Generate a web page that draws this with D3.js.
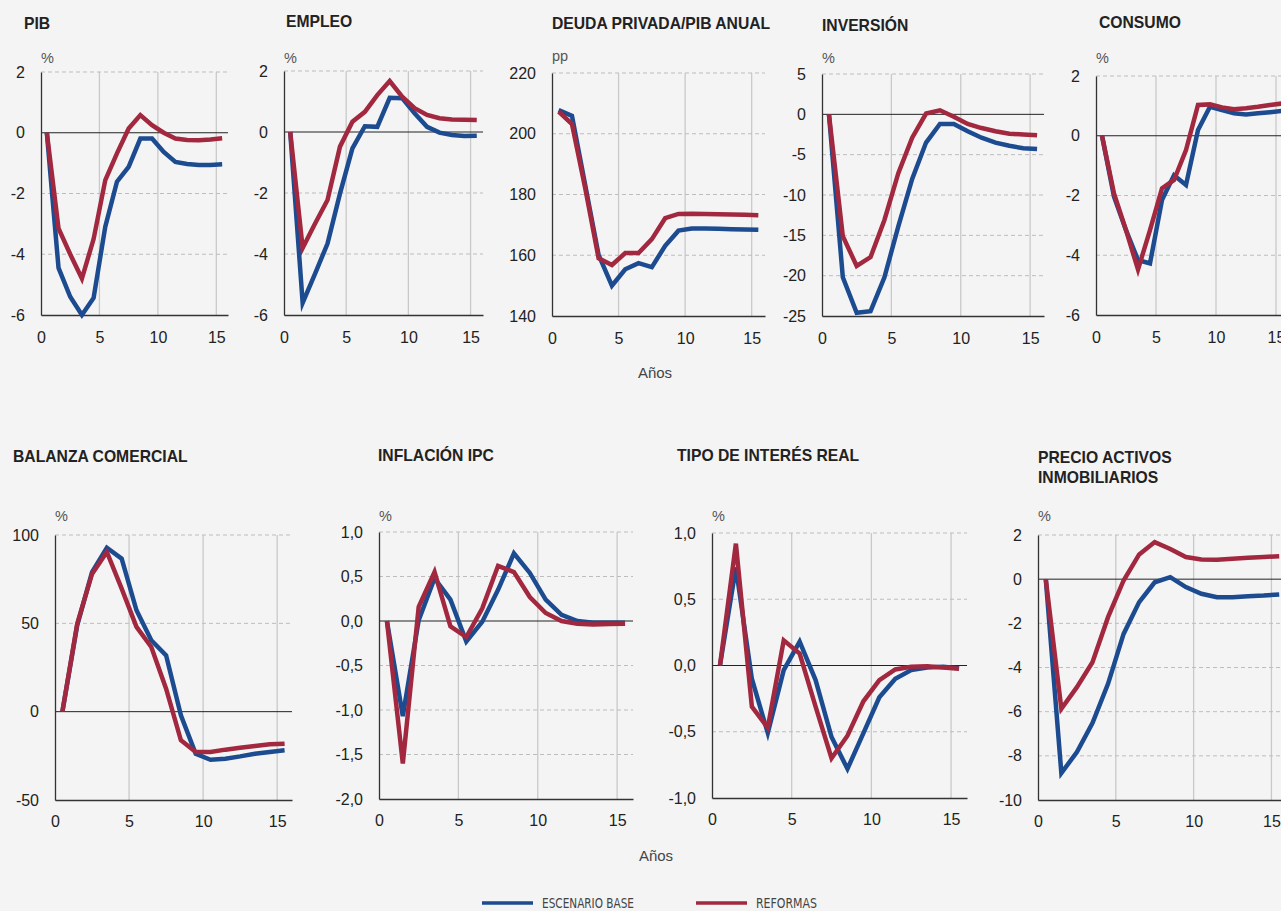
<!DOCTYPE html>
<html>
<head>
<meta charset="utf-8">
<script src="https://cdn.jsdelivr.net/npm/d3@7"></script>
<style>
  html, body { margin: 0; padding: 0; background: #f4f4f4; }
  svg { display: block; }
</style>
</head>
<body>
<svg id="chart" width="1281" height="911"></svg>
<script>
// ---------- DATA ----------
const years = [0.5, 1.5, 2.5, 3.5, 4.5, 5.5, 6.5, 7.5, 8.5, 9.5, 10.5, 11.5, 12.5, 13.5, 14.5, 15.5];
const xTicks = [0, 5, 10, 15];
const seriesNames = ["ESCENARIO BASE", "REFORMAS"];

const pibBase      = [0, -4.45, -5.4, -6.0, -5.44, -3.09, -1.61, -1.12, -0.19, -0.19, -0.63, -0.96, -1.03, -1.06, -1.06, -1.04];
const pibReformas  = [0, -3.15, -4.0, -4.8, -3.5, -1.56, -0.68, 0.14, 0.58, 0.25, 0.0, -0.19, -0.24, -0.25, -0.22, -0.18];
const pibTicks     = [2, 0, -2, -4, -6];

const empleoBase     = [0, -5.6, -4.64, -3.66, -2.02, -0.54, 0.19, 0.17, 1.12, 1.11, 0.61, 0.17, -0.02, -0.1, -0.13, -0.12];
const empleoReformas = [0, -3.8, -3.0, -2.23, -0.48, 0.34, 0.66, 1.21, 1.67, 1.16, 0.78, 0.56, 0.45, 0.41, 0.40, 0.39];
const empleoTicks    = [2, 0, -2, -4, -6];

const deudaBase     = [207.8, 205.9, 183, 160.1, 150, 155.4, 157.4, 156.1, 163.1, 168.1, 168.8, 168.8, 168.7, 168.6, 168.5, 168.4];
const deudaReformas = [207.3, 203.2, 182, 159, 156.8, 160.7, 160.7, 165.3, 172.2, 173.6, 173.7, 173.6, 173.5, 173.4, 173.3, 173.2];
const deudaTicks    = [220, 200, 180, 160, 140];

const inversionBase     = [0, -20.2, -24.6, -24.4, -20.2, -13.9, -8.0, -3.5, -1.2, -1.2, -2.1, -2.9, -3.5, -3.9, -4.2, -4.3];
const inversionReformas = [0, -15.1, -18.8, -17.7, -13.1, -7.3, -2.9, 0.1, 0.5, -0.3, -1.2, -1.7, -2.1, -2.4, -2.5, -2.6];
const inversionTicks    = [5, 0, -5, -10, -15, -20, -25];

const consumoBase     = [0, -2.04, -3.16, -4.16, -4.27, -2.15, -1.32, -1.65, 0.19, 0.97, 0.86, 0.75, 0.71, 0.75, 0.79, 0.83];
const consumoReformas = [0, -1.93, -3.16, -4.48, -3.16, -1.76, -1.48, -0.48, 1.03, 1.05, 0.95, 0.89, 0.92, 0.97, 1.03, 1.08];
const consumoTicks    = [2, 0, -2, -4, -6];

const balanzaBase     = [0, 48.9, 79, 92.8, 86.6, 57.4, 40.4, 31.9, -2, -23.8, -27.2, -26.6, -25.3, -23.8, -22.8, -21.9];
const balanzaReformas = [0, 49.8, 78, 90.4, 69.6, 48, 36.6, 13, -16.2, -22.8, -22.8, -21.5, -20.4, -19.4, -18.5, -18.1];
const balanzaTicks    = [100, 50, 0, -50];

const inflacionBase     = [0, -1.07, 0.01, 0.48, 0.24, -0.23, -0.01, 0.35, 0.76, 0.54, 0.24, 0.07, 0.0, -0.02, -0.02, -0.02];
const inflacionReformas = [0, -1.6, 0.16, 0.55, -0.06, -0.18, 0.14, 0.62, 0.55, 0.27, 0.09, 0.0, -0.03, -0.04, -0.035, -0.03];
const inflacionTicks    = [1, 0.5, 0, -0.5, -1, -1.5, -2];

const tipoBase     = [0, 0.74, -0.1, -0.51, -0.035, 0.18, -0.11, -0.54, -0.78, -0.51, -0.24, -0.1, -0.035, -0.015, -0.01, -0.02];
const tipoReformas = [0, 0.92, -0.31, -0.47, 0.19, 0.09, -0.31, -0.70, -0.53, -0.27, -0.11, -0.03, -0.01, -0.005, -0.015, -0.025];
const tipoTicks    = [1, 0.5, 0, -0.5, -1];

const precioBase     = [0, -8.78, -7.83, -6.52, -4.74, -2.48, -1.04, -0.14, 0.09, -0.36, -0.66, -0.82, -0.82, -0.77, -0.74, -0.69];
const precioReformas = [0, -5.87, -4.89, -3.76, -1.72, -0.06, 1.12, 1.68, 1.37, 1.0, 0.89, 0.88, 0.92, 0.97, 1.0, 1.04];
const precioTicks    = [2, 0, -2, -4, -6, -8, -10];

// ---------- LAYOUT / STYLE ----------
const COLORS = ["#1c4b90", "#a2283f"];
const BG = "#f4f4f4";

const intFmt = d => String(d);
const decFmt = d => (d < 0 ? "-" : "") + Math.abs(d).toFixed(1).replace(".", ",");

const panels = [
  { title: ["PIB"], unit: "%", base: pibBase, ref: pibReformas, ticks: pibTicks, fmt: intFmt,
    left: 41, right: 228, top: 72, bottom: 315, titleX: 24, titleY: 29, unitY: 63, xlabPad: 17 },
  { title: ["EMPLEO"], unit: "%", base: empleoBase, ref: empleoReformas, ticks: empleoTicks, fmt: intFmt,
    left: 284, right: 483, top: 71, bottom: 315, titleX: 286, titleY: 27, unitY: 63, xlabPad: 17 },
  { title: ["DEUDA PRIVADA/PIB ANUAL"], unit: "pp", base: deudaBase, ref: deudaReformas, ticks: deudaTicks, fmt: intFmt,
    left: 552, right: 765, top: 73, bottom: 316, titleX: 552, titleY: 29, unitY: 61, xlabPad: 17 },
  { title: ["INVERSIÓN"], unit: "%", base: inversionBase, ref: inversionReformas, ticks: inversionTicks, fmt: intFmt,
    left: 822, right: 1044, top: 74, bottom: 316, titleX: 822, titleY: 31, unitY: 63, xlabPad: 17 },
  { title: ["CONSUMO"], unit: "%", base: consumoBase, ref: consumoReformas, ticks: consumoTicks, fmt: intFmt,
    left: 1096, right: 1288, top: 76, bottom: 315, titleX: 1099, titleY: 28, unitY: 63, xlabPad: 17 },
  { title: ["BALANZA COMERCIAL"], unit: "%", base: balanzaBase, ref: balanzaReformas, ticks: balanzaTicks, fmt: intFmt,
    left: 55, right: 292, top: 535, bottom: 800, titleX: 13, titleY: 462, unitY: 521, xlabPad: 16 },
  { title: ["INFLACIÓN IPC"], unit: "%", base: inflacionBase, ref: inflacionReformas, ticks: inflacionTicks, fmt: decFmt,
    left: 379, right: 633, top: 532, bottom: 799, titleX: 378, titleY: 461, unitY: 521, xlabPad: 16 },
  { title: ["TIPO DE INTERÉS REAL"], unit: "%", base: tipoBase, ref: tipoReformas, ticks: tipoTicks, fmt: decFmt,
    left: 712, right: 967, top: 533, bottom: 798, titleX: 677, titleY: 461, unitY: 521, xlabPad: 16 },
  { title: ["PRECIO ACTIVOS", "INMOBILIARIOS"], unit: "%", base: precioBase, ref: precioReformas, ticks: precioTicks, fmt: intFmt,
    left: 1038, right: 1287, top: 535, bottom: 800, titleX: 1038, titleY: 463, unitY: 521, xlabPad: 16 }
];

const svg = d3.select("#chart");
svg.append("rect").attr("width", 1281).attr("height", 911).attr("fill", BG);

const FONT = "'Liberation Sans', Arial, Helvetica, sans-serif";

panels.forEach(p => {
  const ext = [d3.min(p.ticks), d3.max(p.ticks)];
  const x = d3.scaleLinear().domain([0, 16]).range([p.left, p.right]);
  const y = d3.scaleLinear().domain(ext).range([p.bottom, p.top]);
  const g = svg.append("g");

  // title
  p.title.forEach((t, i) => {
    g.append("text").attr("x", p.titleX).attr("y", p.titleY + i * 19.5)
      .attr("font-family", FONT).attr("font-weight", "bold").attr("font-size", 15.7)
      .attr("fill", "#222").text(t);
  });

  // unit
  g.append("text").attr("x", p.left).attr("y", p.unitY)
    .attr("font-family", FONT).attr("font-size", 14.5).attr("fill", "#555").text(p.unit);

  // vertical gridlines
  g.selectAll(".vg").data(xTicks.filter(d => d > 0)).join("line")
    .attr("x1", d => x(d)).attr("x2", d => x(d))
    .attr("y1", p.top).attr("y2", p.bottom)
    .attr("stroke", "#c9c9c9").attr("stroke-width", 1.3);

  // horizontal dashed gridlines
  g.selectAll(".hg").data(p.ticks.filter(d => d !== ext[0] && d !== 0)).join("line")
    .attr("x1", p.left).attr("x2", p.right)
    .attr("y1", d => y(d)).attr("y2", d => y(d))
    .attr("stroke", "#bdbdbd").attr("stroke-width", 1).attr("stroke-dasharray", "4,3");

  // zero line
  if (ext[0] < 0 && ext[1] > 0) {
    g.append("line").attr("x1", p.left).attr("x2", p.right)
      .attr("y1", y(0)).attr("y2", y(0)).attr("stroke", "#222").attr("stroke-width", 1);
  }

  // left axis
  const ya = g.append("g").attr("transform", `translate(${p.left},0)`)
    .call(d3.axisLeft(y).tickValues(p.ticks).tickFormat(p.fmt).tickSize(0).tickSizeOuter(0).tickPadding(16));
  ya.select(".domain").attr("stroke", "#333").attr("stroke-width", 1.3);
  ya.selectAll("text").attr("font-family", FONT).attr("font-size", 16).attr("fill", "#222");

  // bottom axis
  const xa = g.append("g").attr("transform", `translate(0,${p.bottom})`)
    .call(d3.axisBottom(x).tickValues(xTicks).tickFormat(d => String(d)).tickSize(0).tickSizeOuter(0).tickPadding(p.xlabPad));
  xa.select(".domain").attr("stroke", "#333").attr("stroke-width", 1.6);
  xa.selectAll("text").attr("font-family", FONT).attr("font-size", 16).attr("fill", "#222");

  // lines
  const line = d3.line().x((d, i) => x(years[i])).y(d => y(d));
  [p.base, p.ref].forEach((s, k) => {
    g.append("path").datum(s).attr("d", line)
      .attr("fill", "none").attr("stroke", COLORS[k]).attr("stroke-width", 4.5)
      .attr("stroke-linejoin", "miter").attr("stroke-miterlimit", 6);
  });
});

// "Años" labels
[[655, 378], [656, 861]].forEach(([cx, cy]) => {
  svg.append("text").attr("x", cx).attr("y", cy).attr("text-anchor", "middle")
    .attr("font-family", FONT).attr("font-size", 15).attr("fill", "#444").text("Años");
});

// legend
const legendPos = [[482, 533, 542, 92], [696, 747, 756, 61]];
seriesNames.forEach((name, k) => {
  const [x1, x2, tx, tw] = legendPos[k];
  svg.append("line").attr("x1", x1).attr("x2", x2).attr("y1", 903).attr("y2", 903)
    .attr("stroke", COLORS[k]).attr("stroke-width", 3.5);
  svg.append("text").attr("x", tx).attr("y", 907.5)
    .attr("font-family", "'Liberation Sans Narrow', 'DejaVu Sans Condensed', Arial, sans-serif")
    .attr("font-size", 14).attr("fill", "#444")
    .attr("textLength", tw).attr("lengthAdjust", "spacingAndGlyphs").text(name);
});
</script>
</body>
</html>
